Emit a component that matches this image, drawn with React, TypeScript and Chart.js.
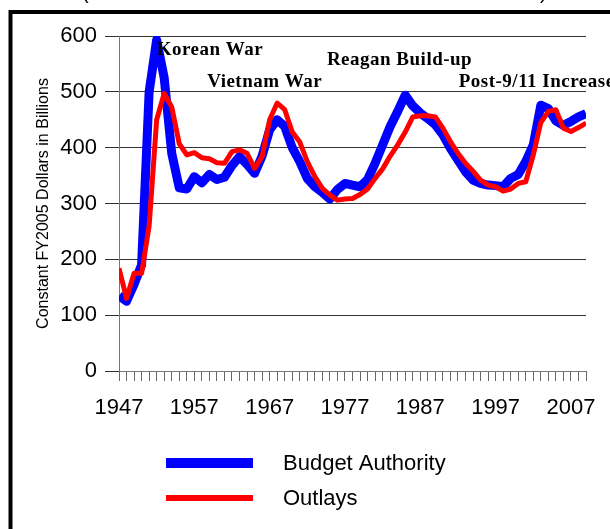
import { useEffect, useRef } from 'react';
import { Chart, registerables } from 'chart.js';

Chart.register(...registerables);

const years = [
  1947, 1948, 1949, 1950, 1951, 1952, 1953, 1954, 1955, 1956,
  1957, 1958, 1959, 1960, 1961, 1962, 1963, 1964, 1965, 1966,
  1967, 1968, 1969, 1970, 1971, 1972, 1973, 1974, 1975, 1976,
  1977, 1978, 1979, 1980, 1981, 1982, 1983, 1984, 1985, 1986,
  1987, 1988, 1989, 1990, 1991, 1992, 1993, 1994, 1995, 1996,
  1997, 1998, 1999, 2000, 2001, 2002, 2003, 2004, 2005, 2006,
  2007, 2008, 2009,
];

const budgetAuthority = [
  135, 125, 155, 190, 500, 593, 525, 390, 328, 326,
  348, 337, 352, 343, 347, 368, 384, 370, 354, 385,
  432, 450, 438, 400, 375, 345, 330, 320, 308, 325,
  336, 333, 330, 343, 372, 405, 438, 465, 494, 475,
  462, 452, 441, 423, 399, 378, 357, 342, 336, 333,
  332, 330, 345, 352, 375, 405, 476, 470, 448, 440,
  447, 455, 461,
];

const outlays = [
  184, 130, 175, 175, 260, 450, 497, 473, 407, 387,
  391, 382, 380, 373, 372, 393, 396, 390, 363, 384,
  450, 480, 468, 428, 410, 375, 348, 327, 315, 306,
  308, 309, 316, 326, 345, 362, 385, 405, 428, 455,
  457, 457, 455, 435, 411, 390, 372, 358, 342, 333,
  330, 322, 326, 336, 339, 387, 445, 465, 468, 435,
  429, 436, 444,
];

const seriesNames = ['Budget Authority', 'Outlays'];
const seriesColors = ['#0000FF', '#FF0000'];

const yTitle = 'Constant FY2005 Dollars in Billions';
const yTicks = [0, 100, 200, 300, 400, 500, 600];
const labelEvery = 10;

const annotationTexts = ['Korean War', 'Vietnam War', 'Reagan Build-up', 'Post-9/11 Increase'];
const annotationYears = [1952.0, 1958.7, 1974.6, 1992.1];
const annotationValues = [566, 509, 548, 509];

const SANS = 'Arial, "Liberation Sans", Helvetica, sans-serif';
const SERIF = '"Liberation Serif", "Times New Roman", Times, serif';

const decorPlugin = {
  id: 'decor',
  afterDatasetsDraw(chart: any) {
    const { ctx, scales } = chart;
    ctx.save();
    ctx.fillStyle = '#000';
    ctx.font = `bold 19px ${SERIF}`;
    try { (ctx as any).letterSpacing = '0.5px'; } catch (e) { /* ignore */ }
    ctx.textAlign = 'left';
    ctx.textBaseline = 'alphabetic';
    annotationTexts.forEach((t, i) => {
      const x = scales.x.getPixelForValue(annotationYears[i]);
      const y = scales.y.getPixelForValue(annotationValues[i]);
      ctx.fillText(t, x, y);
    });
    ctx.restore();
  },
  afterDraw(chart: any) {
    const { ctx } = chart;
    ctx.save();
    // outer frame
    ctx.strokeStyle = '#000';
    ctx.lineWidth = 4;
    ctx.strokeRect(10.5, 12, 800, 800);
    // cut-off title parentheses
    ctx.fillStyle = '#000';
    ctx.font = `20px ${SANS}`;
    ctx.textBaseline = 'alphabetic';
    ctx.textAlign = 'left';
    ctx.fillText('(', 82, -1);
    ctx.fillText(')', 540, -1);
    // legend
    const rows = [463, 498];
    const widths = [10, 6];
    seriesNames.forEach((name, i) => {
      ctx.fillStyle = seriesColors[i];
      ctx.fillRect(166, rows[i] - widths[i] / 2, 87, widths[i]);
      ctx.fillStyle = '#000';
      ctx.font = `22px ${SANS}`;
      ctx.textBaseline = 'middle';
      ctx.fillText(name, 283, rows[i] + 1);
    });
    ctx.restore();
  },
};

export default function App() {
  const canvasRef = useRef<HTMLCanvasElement | null>(null);

  useEffect(() => {
    if (!canvasRef.current) return;
    const chart = new Chart(canvasRef.current, {
      type: 'line',
      data: {
        datasets: [
          {
            label: seriesNames[0],
            data: years.map((yr, i) => ({ x: yr, y: budgetAuthority[i] })),
            borderColor: seriesColors[0],
            backgroundColor: seriesColors[0],
            borderWidth: 9,
            pointRadius: 0,
            tension: 0,
            borderJoinStyle: 'round',
            order: 1,
          },
          {
            label: seriesNames[1],
            data: years.map((yr, i) => ({ x: yr, y: outlays[i] })),
            borderColor: seriesColors[1],
            backgroundColor: seriesColors[1],
            borderWidth: 5,
            pointRadius: 0,
            tension: 0,
            borderJoinStyle: 'round',
            order: 0,
          },
        ],
      },
      options: {
        animation: false,
        responsive: false,
        maintainAspectRatio: false,
        layout: { padding: { left: 0, right: 24, top: 36, bottom: 0 } },
        plugins: {
          legend: { display: false },
          tooltip: { enabled: false },
          title: { display: false },
        },
        scales: {
          x: {
            type: 'linear',
            min: years[0],
            max: years[years.length - 1],
            ticks: {
              stepSize: 1,
              autoSkip: false,
              maxRotation: 0,
              color: '#000',
              font: { family: SANS, size: 22 },
              padding: 14,
              callback: (v: any) => ((v - years[0]) % labelEvery === 0 ? String(v) : ''),
            },
            grid: { drawOnChartArea: false, drawTicks: true, tickLength: 10, color: '#666', lineWidth: 1 },
            border: { color: '#777', width: 1 },
            afterFit: (s: any) => { s.height = 158; },
          },
          y: {
            min: yTicks[0],
            max: yTicks[yTicks.length - 1],
            afterBuildTicks: (s: any) => { s.ticks = yTicks.map((v) => ({ value: v })); },
            ticks: {
              stepSize: 100,
              color: '#000',
              font: { family: SANS, size: 22 },
              padding: 8,
            },
            grid: { color: '#333', lineWidth: 1, tickLength: 14, drawTicks: true },
            border: { color: '#777', width: 1 },
            title: {
              display: true,
              text: yTitle,
              color: '#000',
              font: { family: SANS, size: 16 },
              padding: { top: 34, bottom: 0 },
            },
            afterFit: (s: any) => { s.width = 119; },
          },
        },
      },
      plugins: [decorPlugin],
    } as any);
    return () => chart.destroy();
  }, []);

  return (
    <div style={{ position: 'absolute', left: 0, top: 0, width: 610, height: 529, background: '#fff', overflow: 'hidden' }}>
      <canvas ref={canvasRef} width={610} height={529} style={{ display: 'block' }} />
    </div>
  );
}
